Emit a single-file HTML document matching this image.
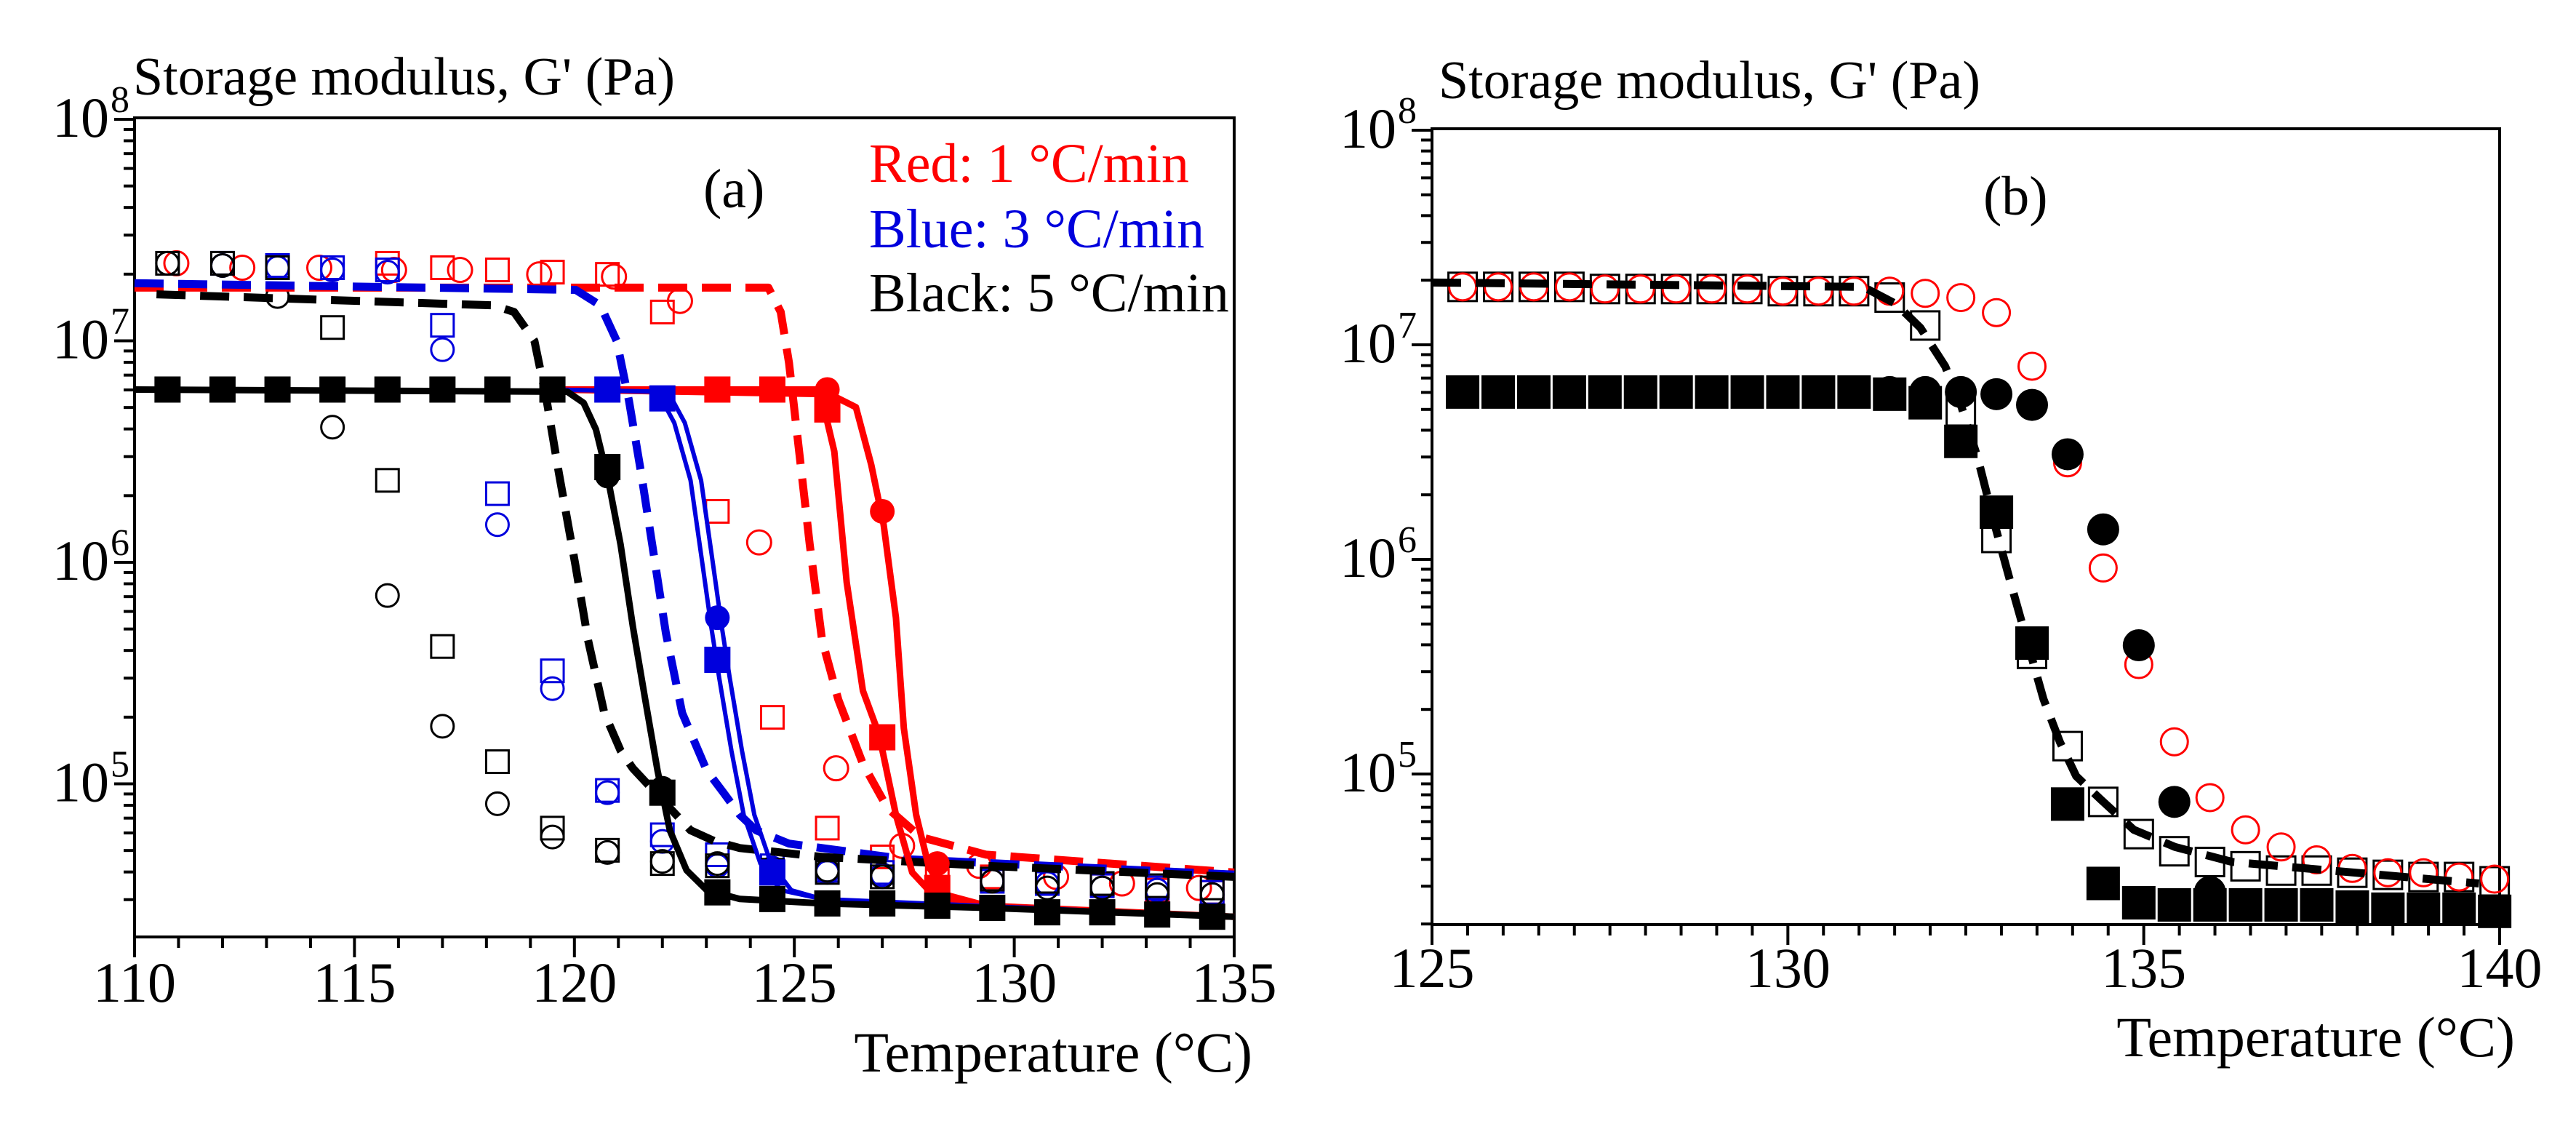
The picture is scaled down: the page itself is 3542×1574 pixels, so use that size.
<!DOCTYPE html>
<html><head><meta charset="utf-8"><style>
html,body{margin:0;padding:0;background:#fff;}
svg text{font-family:"Liberation Serif","DejaVu Serif",serif;}
</style></head><body>
<svg id="chart" width="3542" height="1569" viewBox="0 0 3542 1569" xmlns="http://www.w3.org/2000/svg" font-family="Liberation Serif, serif">
<rect width="3542" height="1569" fill="#fff"/>
<g id="pa"></g>
<g id="pb"></g>
</svg>
<script>
// ---------- Panel (a) data: temperature (°C) and log10 G' (Pa) ----------
const aBlackFilledSqT = [110.75,112,113.25,114.5,115.75,117,118.25,119.5,120.75,122,123.25,124.5,125.75,127,128.25,129.5,130.75,132,133.25,134.5];
const aBlackFilledSqG = [6.78,6.78,6.78,6.78,6.78,6.78,6.78,6.78,6.43,4.96,4.51,4.48,4.46,4.46,4.45,4.44,4.42,4.42,4.41,4.40];
const aBlackFilledCiT = [120.75,122];
const aBlackFilledCiG = [6.39,4.98];
const aBlueFilledSqT = [120.75,122,123.25,124.5];
const aBlueFilledSqG = [6.78,6.74,5.56,4.60];
const aBlueFilledCiT = [123.25,124.5];
const aBlueFilledCiG = [5.75,4.61];
const aRedFilledSqT = [123.25,124.5,125.75,127,128.25];
const aRedFilledSqG = [6.78,6.78,6.69,5.21,4.53];
const aRedFilledCiT = [125.75,127,128.25];
const aRedFilledCiG = [6.78,6.23,4.64];

const aBlackOpenCiT = [110.75,112,113.25,114.5,115.75,117,118.25,119.5,120.75,122,123.25,124.5,125.75,127,129.5,130.75,132,133.25,134.5];
const aBlackOpenCiG = [7.35,7.34,7.20,6.61,5.85,5.26,4.91,4.76,4.69,4.65,4.64,4.60,4.61,4.58,4.56,4.53,4.53,4.50,4.50];
const aBlackOpenSqT = [110.75,112,113.25,114.5,115.75,117,118.25,119.5,120.75,122,123.25,124.5,125.75,127,129.5,130.75,132,133.25,134.5];
const aBlackOpenSqG = [7.35,7.35,7.33,7.06,6.37,5.62,5.10,4.80,4.70,4.64,4.63,4.61,4.60,4.58,4.57,4.56,4.55,4.54,4.53];
const aBlueOpenSqT = [112,113.25,114.5,115.75,117,118.25,119.5,120.75,122,123.25,124.5,125.75,127,129.5,130.75,132,133.25,134.5];
const aBlueOpenSqG = [7.35,7.34,7.33,7.32,7.07,6.31,5.51,4.97,4.77,4.68,4.63,4.61,4.60,4.56,4.55,4.54,4.53,4.51];
const aBlueOpenCiT = [112,113.25,114.5,115.75,117,118.25,119.5,120.75,122,123.25,124.5,125.75,127,129.5,130.75,132,133.25,134.5];
const aBlueOpenCiG = [7.34,7.33,7.32,7.31,6.96,6.17,5.43,4.96,4.74,4.63,4.62,4.60,4.59,4.56,4.55,4.53,4.52,4.50];
const aRedOpenCiT = [110.95,112.45,114.2,115.9,117.4,119.2,120.9,122.4,124.2,125.95,127.45,129.2,130.95,132.45,134.2];
const aRedOpenCiG = [7.35,7.33,7.33,7.32,7.32,7.30,7.29,7.18,6.09,5.07,4.72,4.63,4.58,4.55,4.53];
const aRedOpenSqT = [115.75,117,118.25,119.5,120.75,122,123.25,124.5,125.75,127,128.25,129.5,130.75,132,133.25,134.5];
const aRedOpenSqG = [7.35,7.33,7.32,7.31,7.30,7.13,6.23,5.30,4.80,4.67,4.61,4.58,4.56,4.54,4.52,4.51];

// fitted curves (a)
const aRedSolid1T = [119.5,125.6,126.4,126.75,127.03,127.31,127.49,127.77,128.05,128.43,129.36,135];
const aRedSolid1G = [6.78,6.78,6.70,6.44,6.17,5.75,5.25,4.86,4.63,4.50,4.45,4.40];
const aRedSolid2T = [119.5,125.6,125.91,126.19,126.56,126.93,127.31,127.68,128.24,129.36];
const aRedSolid2G = [6.78,6.76,6.50,5.91,5.42,5.22,4.86,4.60,4.48,4.45];
const aRedDashT = [110,124.41,124.69,124.88,125.07,125.35,125.63,126.0,126.56,127.12,127.87,129.36,135];
const aRedDashG = [7.24,7.24,7.13,6.90,6.57,6.08,5.65,5.38,5.09,4.89,4.76,4.68,4.60];
const aBlueDashT = [110,120.03,120.59,120.96,121.24,121.52,121.80,122.08,122.45,123.01,123.39,123.76,124.13,124.88,127.5,135];
const aBlueDashG = [7.26,7.23,7.16,7.00,6.73,6.40,6.04,5.68,5.32,5.06,4.96,4.86,4.79,4.73,4.66,4.59];
const aBlueSolid1T = [119.5,121.89,122.27,122.64,122.92,123.11,123.29,123.57,123.85,124.23,124.69,125.63,135];
const aBlueSolid1G = [6.78,6.77,6.63,6.37,5.98,5.71,5.48,5.15,4.86,4.64,4.52,4.48,4.40];
const aBlueSolid2T = [119.5,122.13,122.51,122.88,123.16,123.35,123.53,123.81,124.09,124.47,124.93,125.63];
const aBlueSolid2G = [6.78,6.77,6.63,6.37,5.98,5.71,5.48,5.15,4.86,4.64,4.52,4.48];
const aBlackDashT = [110.5,118.16,118.63,119.09,119.37,119.65,120.03,120.31,120.68,121.05,121.33,122.64,123.20,123.76,125.63,129.36,135];
const aBlackDashG = [7.21,7.16,7.13,7.00,6.73,6.40,5.98,5.65,5.32,5.15,5.07,4.79,4.74,4.71,4.67,4.63,4.58];
const aBlackSolidT = [110,119.84,120.21,120.49,120.77,121.05,121.33,121.61,121.89,122.17,122.55,123.01,123.76,125.63,129.36,135];
const aBlackSolidG = [6.78,6.77,6.72,6.60,6.37,6.08,5.71,5.38,5.06,4.79,4.61,4.52,4.48,4.46,4.44,4.40];

// ---------- Panel (b) data ----------
const bFilledSqT = [125.43,125.93,126.43,126.93,127.43,127.93,128.43,128.93,129.43,129.93,130.43,130.93,131.43,131.93,132.43,132.93,133.43,133.93,134.43,134.93,135.43,135.93,136.43,136.93,137.43,137.93,138.43,138.93,139.43,139.93];
const bFilledSqG = [6.78,6.78,6.78,6.78,6.78,6.78,6.78,6.78,6.78,6.78,6.78,6.78,6.77,6.73,6.55,6.22,5.61,4.86,4.49,4.40,4.39,4.39,4.39,4.39,4.39,4.38,4.37,4.37,4.37,4.36];
const bFilledCiT = [131.43,131.93,132.43,132.93,133.43,133.93,134.43,134.93,135.43,135.93];
const bFilledCiG = [6.78,6.78,6.78,6.77,6.72,6.49,6.14,5.60,4.87,4.45];
const bOpenSqT = [125.43,125.93,126.43,126.93,127.43,127.93,128.43,128.93,129.43,129.93,130.43,130.93,131.43,131.93,132.43,132.93,133.43,133.93,134.43,134.93,135.43,135.93,136.43,136.93,137.43,137.93,138.43,138.93,139.43,139.93];
const bOpenSqG = [7.27,7.27,7.27,7.27,7.26,7.26,7.26,7.26,7.26,7.25,7.25,7.25,7.22,7.09,6.69,6.10,5.56,5.13,4.87,4.72,4.64,4.59,4.57,4.55,4.55,4.54,4.53,4.52,4.52,4.50];
const bOpenCiT = [125.43,125.93,126.43,126.93,127.43,127.93,128.43,128.93,129.43,129.93,130.43,130.93,131.43,131.93,132.43,132.93,133.43,133.93,134.43,134.93,135.43,135.93,136.43,136.93,137.43,137.93,138.43,138.93,139.43,139.93];
const bOpenCiG = [7.27,7.27,7.27,7.27,7.26,7.26,7.26,7.26,7.26,7.25,7.25,7.25,7.25,7.24,7.22,7.15,6.90,6.45,5.96,5.51,5.15,4.89,4.74,4.66,4.60,4.56,4.54,4.54,4.52,4.51];
const bDashT = [125,131.06,131.52,131.86,132.21,132.44,132.67,132.90,133.13,133.36,133.59,133.82,134.05,134.40,134.86,135.44,136.25,137.98,139.71];
const bDashG = [7.29,7.27,7.19,7.08,6.90,6.71,6.47,6.17,5.89,5.62,5.35,5.15,4.99,4.88,4.74,4.66,4.59,4.54,4.49];

// tick labels
const aXTicks = [110,115,120,125,130,135];
const bXTicks = [125,130,135,140];
const yDecades = [5,6,7,8];

const NS = "http://www.w3.org/2000/svg";
const FONT = '"Liberation Serif", "DejaVu Serif", serif';
function mk(parent, tag, attrs){
  const e = document.createElementNS(NS, tag);
  for (const k in attrs) e.setAttribute(k, attrs[k]);
  if (tag === 'text') { e.setAttribute('font-family', FONT); e.style.fontFamily = FONT; }
  parent.appendChild(e);
  return e;
}

function buildPanel(g, cfg){
  const X = t => cfg.x0 + (t - cfg.tmin) * (cfg.x1 - cfg.x0) / (cfg.tmax - cfg.tmin);
  const Y = l => cfg.yTop + (8 - l) * cfg.dec;
  const fr = mk(g,'rect',{x:cfg.x0,y:cfg.frameTop,width:cfg.x1-cfg.x0,height:cfg.yBot-cfg.frameTop,fill:'none',stroke:'#000','stroke-width':4});
  
  
  const yax = mk(g,'g',{});
  
  
  for (let d = 4; d <= 8; d++){
    for (let m = 1; m <= 9; m++){
      const l = d + Math.log10(m);
      if (l > 8.0001) continue;
      const y = Y(l);
      if (y > cfg.yBot + 1) continue;
      const len = (m === 1) ? 28 : 15;
      const tk = mk(yax,'line',{x1:cfg.x0-len,x2:cfg.x0,y1:y,y2:y,stroke:'#000','stroke-width':4});
      
      
    }
  }
  yDecades.forEach(d => {
    const y = Y(d);
    const t = mk(yax,'text',{x:cfg.yLabX,y:y+24,'font-size':78,'text-anchor':'end'});
    t.textContent = '10';
    
    
    const s = mk(yax,'text',{x:cfg.yLabX+2,y:y-10,'font-size':52});
    s.textContent = String(d);
    
    
  });
  const xax = mk(g,'g',{});
  
  
  for (let t = cfg.tmin; t <= cfg.tmax + 1e-6; t += cfg.minor){
    const x = X(t);
    const major = Math.abs(t/5 - Math.round(t/5)) < 1e-6;
    const tk = mk(xax,'line',{x1:x,x2:x,y1:cfg.yBot,y2:cfg.yBot+(major?28:15),stroke:'#000','stroke-width':4});
    
    
  }
  cfg.xticks.forEach(t => {
    const tl = mk(xax,'text',{x:X(t),y:cfg.xLabY,'font-size':78,'text-anchor':'middle'});
    tl.textContent = String(t);
    
    
  });
  const xt = mk(g,'text',{x:cfg.xTitleX,y:cfg.xTitleY,'font-size':78,'text-anchor':'end'});
  xt.textContent = 'Temperature (°C)';
  
  
  const yt = mk(g,'text',{x:cfg.yTitleX,y:cfg.yTitleY,'font-size':74});
  yt.textContent = "Storage modulus, G' (Pa)";
  
  
  return {X, Y};
}

function drawLine(g, ax, T, G, color, dashed, name, w){
  const pts = T.map((t,i) => ax.X(t).toFixed(1) + ',' + ax.Y(G[i]).toFixed(1)).join(' ');
  const p = mk(g,'polyline',{points:pts,fill:'none',stroke:color,'stroke-width':w || (dashed ? 11 : 9),'stroke-linejoin':'round'});
  if (dashed) p.setAttribute('stroke-dasharray','40 20');
  
  
}
function drawMarkers(g, ax, T, G, shape, filled, color, size, name){
  const grp = mk(g,'g',{});
  
  
  T.forEach((t,i) => {
    const x = ax.X(t), y = ax.Y(G[i]);
    let e;
    const sw = filled ? 0 : 3;
    const r = size/2 - sw/2;
    if (shape === 'sq') e = mk(grp,'rect',{x:x-r,y:y-r,width:2*r,height:2*r});
    else e = mk(grp,'circle',{cx:x,cy:y,r:r});
    e.setAttribute('fill', filled ? color : 'none');
    e.setAttribute('stroke', color);
    e.setAttribute('stroke-width', sw || 0);
    
    
  });
}

// ---- Panel a ----
const ga = document.getElementById('pa');
const axA = buildPanel(ga, {x0:185,x1:1697,tmin:110,tmax:135,minor:1,yTop:164,dec:304.5,yBot:1288,frameTop:162,
  yLabX:150,xticks:aXTicks,xLabY:1377,xTitleX:1722,xTitleY:1473,yTitleX:183,yTitleY:130});
const R='#ff0000', B='#0000dd', K='#000000';
drawMarkers(ga, axA, aRedOpenSqT, aRedOpenSqG, 'sq', false, R, 34, 'red-open-squares');
drawMarkers(ga, axA, aRedOpenCiT, aRedOpenCiG, 'ci', false, R, 36, 'red-open-circles');
drawMarkers(ga, axA, aBlueOpenSqT, aBlueOpenSqG, 'sq', false, B, 34, 'blue-open-squares');
drawMarkers(ga, axA, aBlueOpenCiT, aBlueOpenCiG, 'ci', false, B, 34, 'blue-open-circles');
drawMarkers(ga, axA, aBlackOpenSqT, aBlackOpenSqG, 'sq', false, K, 34, 'black-open-squares');
drawMarkers(ga, axA, aBlackOpenCiT, aBlackOpenCiG, 'ci', false, K, 34, 'black-open-circles');
drawLine(ga, axA, aRedDashT, aRedDashG, R, true, 'red-dashed-fit');
drawLine(ga, axA, aBlueDashT, aBlueDashG, B, true, 'blue-dashed-fit');
drawLine(ga, axA, aBlackDashT, aBlackDashG, K, true, 'black-dashed-fit');
drawLine(ga, axA, aRedSolid1T, aRedSolid1G, R, false, 'red-solid-fit-1');
drawLine(ga, axA, aRedSolid2T, aRedSolid2G, R, false, 'red-solid-fit-2');
drawLine(ga, axA, aBlueSolid1T, aBlueSolid1G, B, false, 'blue-solid-fit-1', 6);
drawLine(ga, axA, aBlueSolid2T, aBlueSolid2G, B, false, 'blue-solid-fit-2', 6);
drawLine(ga, axA, aBlackSolidT, aBlackSolidG, K, false, 'black-solid-fit');
drawMarkers(ga, axA, aRedFilledSqT, aRedFilledSqG, 'sq', true, R, 36, 'red-filled-squares');
drawMarkers(ga, axA, aRedFilledCiT, aRedFilledCiG, 'ci', true, R, 34, 'red-filled-circles');
drawMarkers(ga, axA, aBlueFilledSqT, aBlueFilledSqG, 'sq', true, B, 36, 'blue-filled-squares');
drawMarkers(ga, axA, aBlueFilledCiT, aBlueFilledCiG, 'ci', true, B, 34, 'blue-filled-circles');
drawMarkers(ga, axA, aBlackFilledSqT, aBlackFilledSqG, 'sq', true, K, 36, 'black-filled-squares');
drawMarkers(ga, axA, aBlackFilledCiT, aBlackFilledCiG, 'ci', true, K, 34, 'black-filled-circles');
[['Red: 1 °C/min',R,250,'legend-red'],['Blue: 3 °C/min',B,340,'legend-blue'],['Black: 5 °C/min',K,428,'legend-black']].forEach(L => {
  const t = mk(ga,'text',{x:1195,y:L[2],'font-size':76,fill:L[1]});
  t.textContent = L[0];
  
  
});
const la = mk(ga,'text',{x:967,y:285,'font-size':76});
la.textContent = '(a)';



// ---- Panel b ----
const gb = document.getElementById('pb');
const axB = buildPanel(gb, {x0:1969,x1:3437,tmin:125,tmax:140,minor:0.5,yTop:179,dec:295,yBot:1271,frameTop:177,
  yLabX:1920,xticks:bXTicks,xLabY:1357,xTitleX:3458,xTitleY:1452,yTitleX:1978,yTitleY:135});
drawMarkers(gb, axB, bOpenSqT, bOpenSqG, 'sq', false, K, 42, 'open-squares');
drawMarkers(gb, axB, bOpenCiT, bOpenCiG, 'ci', false, R, 40, 'red-open-circles');
drawLine(gb, axB, bDashT, bDashG, K, true, 'black-dashed-fit');
drawMarkers(gb, axB, bFilledSqT, bFilledSqG, 'sq', true, K, 46, 'filled-squares');
drawMarkers(gb, axB, bFilledCiT, bFilledCiG, 'ci', true, K, 44, 'filled-circles');
const lb = mk(gb,'text',{x:2727,y:295,'font-size':76});
lb.textContent = '(b)';


</script>
</body></html>
